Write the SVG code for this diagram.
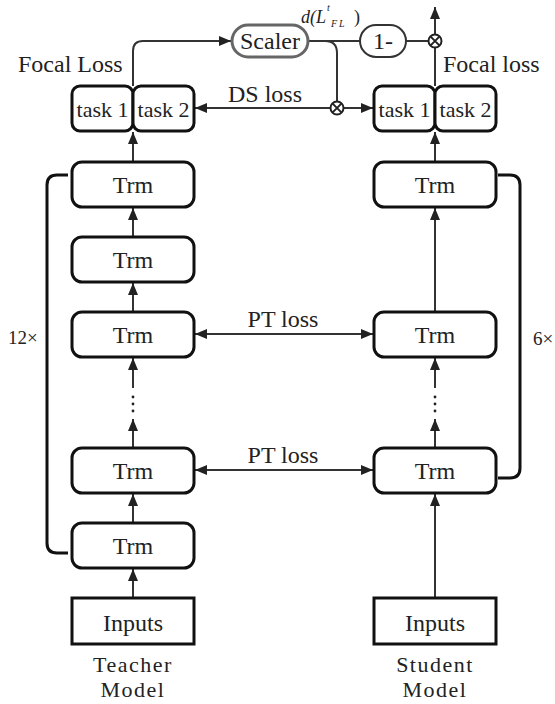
<svg xmlns="http://www.w3.org/2000/svg" width="555" height="704" viewBox="0 0 555 704" font-family="'Liberation Serif', 'DejaVu Serif', serif">
<defs>
<marker id="ah" viewBox="0 0 12 10" refX="12" refY="5" markerWidth="12" markerHeight="10" markerUnits="userSpaceOnUse" orient="auto-start-reverse">
<path d="M0 0 L12 5 L0 10 Z" fill="#222"/>
</marker>
</defs>
<style>
text{font-family:'Liberation Serif','DejaVu Serif','Noto Serif',serif;fill:#222;}
.box{fill:#fff;stroke:#111;stroke-width:3;}
.lbl{font-size:24px;}
.bt{font-size:24px;text-anchor:middle;}
.tk{font-size:22px;text-anchor:middle;}
.c{fill:none;stroke:#333;stroke-width:2;}
.br{fill:none;stroke:#111;stroke-width:3;}
.dot{fill:#222;}
.ot{fill:#fff;stroke:#222;stroke-width:2;}
</style>
<rect width="555" height="704" fill="#fff"/>

<g id="connectors">
<line class="c" x1="133" y1="598" x2="133" y2="569" marker-end="url(#ah)"/>
<line class="c" x1="133" y1="523" x2="133" y2="494" marker-end="url(#ah)"/>
<line class="c" x1="133" y1="448" x2="133" y2="419" marker-end="url(#ah)"/>
<circle class="dot" cx="133" cy="397" r="1.4"/>
<circle class="dot" cx="133" cy="404" r="1.4"/>
<circle class="dot" cx="133" cy="411" r="1.4"/>
<line class="c" x1="133" y1="388" x2="133" y2="358" marker-end="url(#ah)"/>
<line class="c" x1="133" y1="312" x2="133" y2="283" marker-end="url(#ah)"/>
<line class="c" x1="133" y1="237" x2="133" y2="208" marker-end="url(#ah)"/>
<line class="c" x1="133" y1="162" x2="133" y2="132" marker-end="url(#ah)"/>
<line class="c" x1="435" y1="598" x2="435" y2="494" marker-end="url(#ah)"/>
<line class="c" x1="435" y1="448" x2="435" y2="419" marker-end="url(#ah)"/>
<circle class="dot" cx="435" cy="397" r="1.4"/>
<circle class="dot" cx="435" cy="404" r="1.4"/>
<circle class="dot" cx="435" cy="411" r="1.4"/>
<line class="c" x1="435" y1="388" x2="435" y2="358" marker-end="url(#ah)"/>
<line class="c" x1="435" y1="312" x2="435" y2="208" marker-end="url(#ah)"/>
<line class="c" x1="435" y1="162" x2="435" y2="132" marker-end="url(#ah)"/>
<line class="c" x1="195" y1="334" x2="373" y2="334" marker-start="url(#ah)" marker-end="url(#ah)"/>
<line class="c" x1="195" y1="470" x2="373" y2="470" marker-start="url(#ah)" marker-end="url(#ah)"/>
<line class="c" x1="330.5" y1="108" x2="195" y2="108" marker-end="url(#ah)"/>
<line class="c" x1="343.5" y1="108" x2="373" y2="108" marker-end="url(#ah)"/>
<path class="c" d="M133 86 V51 Q133 41 143 41 H231" marker-end="url(#ah)"/>
<path class="c" d="M308 41 H360"/>
<path class="c" d="M325 41 Q337 41 337 53 V101.5"/>
<path class="c" d="M406 41 H428.5"/>
<path class="c" d="M435 86 V47.5"/>
<line class="c" x1="435" y1="34.5" x2="435" y2="7" marker-end="url(#ah)"/>
<path class="br" d="M68 175 H57 Q47 175 47 185 V543 Q47 553 57 553 H68"/>
<path class="br" d="M498 175 H510 Q520 175 520 185 V468 Q520 478 510 478 H498"/>
</g>

<g id="otimes-ds">
<circle class="ot" cx="337" cy="108" r="6.5"/>
<path d="M332.4 103.4 L341.6 112.6 M341.6 103.4 L332.4 112.6" stroke="#222" stroke-width="2"/>
</g>
<g id="otimes-top">
<circle class="ot" cx="435" cy="41" r="6.5"/>
<path d="M430.4 36.4 L439.6 45.6 M439.6 36.4 L430.4 45.6" stroke="#222" stroke-width="2"/>
</g>

<g id="scaler">
<rect x="232" y="25" width="76" height="32" rx="16" fill="#fff" stroke="#666" stroke-width="3"/>
<text class="bt" x="270" y="49">Scaler</text>
</g>
<g id="one-minus">
<rect x="360" y="25" width="46" height="32" rx="16" fill="#fff" stroke="#333" stroke-width="2"/>
<text class="bt" x="383" y="49">1-</text>
</g>
<g id="dlabel">
<text x="301" y="23" style="font-style:italic;font-size:18px">d(L</text>
<text x="327" y="11" style="font-style:italic;font-size:10px">t</text>
<text x="331" y="27" style="font-style:italic;font-size:10px;letter-spacing:2px">FL</text>
<text x="354" y="23" style="font-size:18px">)</text>
</g>

<g id="t-task">
<rect class="box" x="72" y="86" width="61" height="45" rx="8"/>
<rect class="box" x="133" y="86" width="61" height="45" rx="8"/>
<text class="tk" x="102.5" y="117">task 1</text>
<text class="tk" x="163.5" y="117">task 2</text>
</g>
<g id="s-task">
<rect class="box" x="374" y="86" width="61" height="45" rx="8"/>
<rect class="box" x="435" y="86" width="61" height="45" rx="8"/>
<text class="tk" x="404.5" y="117">task 1</text>
<text class="tk" x="465.5" y="117">task 2</text>
</g>

<g id="t-trm1"><rect class="box" x="72" y="162" width="122" height="45" rx="10"/><text class="bt" x="133" y="193">Trm</text></g>
<g id="t-trm2"><rect class="box" x="72" y="237" width="122" height="45" rx="10"/><text class="bt" x="133" y="268">Trm</text></g>
<g id="t-trm3"><rect class="box" x="72" y="312" width="122" height="45" rx="10"/><text class="bt" x="133" y="343">Trm</text></g>
<g id="t-trm4"><rect class="box" x="72" y="448" width="122" height="45" rx="10"/><text class="bt" x="133" y="479">Trm</text></g>
<g id="t-trm5"><rect class="box" x="72" y="523" width="122" height="45" rx="10"/><text class="bt" x="133" y="554">Trm</text></g>
<g id="t-inputs"><rect class="box" x="72" y="598" width="122" height="46"/><text class="bt" x="133" y="631">Inputs</text></g>

<g id="s-trm1"><rect class="box" x="374" y="162" width="122" height="45" rx="10"/><text class="bt" x="435" y="193">Trm</text></g>
<g id="s-trm2"><rect class="box" x="374" y="312" width="122" height="45" rx="10"/><text class="bt" x="435" y="343">Trm</text></g>
<g id="s-trm3"><rect class="box" x="374" y="448" width="122" height="45" rx="10"/><text class="bt" x="435" y="479">Trm</text></g>
<g id="s-inputs"><rect class="box" x="374" y="598" width="122" height="46"/><text class="bt" x="435" y="631">Inputs</text></g>

<g id="labels">
<text class="lbl" x="18" y="72">Focal Loss</text>
<text class="lbl" x="443" y="72">Focal loss</text>
<text class="lbl" x="228" y="102">DS loss</text>
<text class="bt" x="283" y="327">PT loss</text>
<text class="bt" x="283" y="463">PT loss</text>
<text x="8" y="344" style="font-size:19px">12×</text>
<text x="533" y="345" style="font-size:19px">6×</text>
<text class="bt" x="133" y="672" style="font-size:22px;letter-spacing:1.5px">Teacher</text>
<text class="bt" x="133" y="697" style="font-size:22px;letter-spacing:1.5px">Model</text>
<text class="bt" x="435" y="672" style="font-size:22px;letter-spacing:1.5px">Student</text>
<text class="bt" x="435" y="697" style="font-size:22px;letter-spacing:1.5px">Model</text>
</g>
</svg>
